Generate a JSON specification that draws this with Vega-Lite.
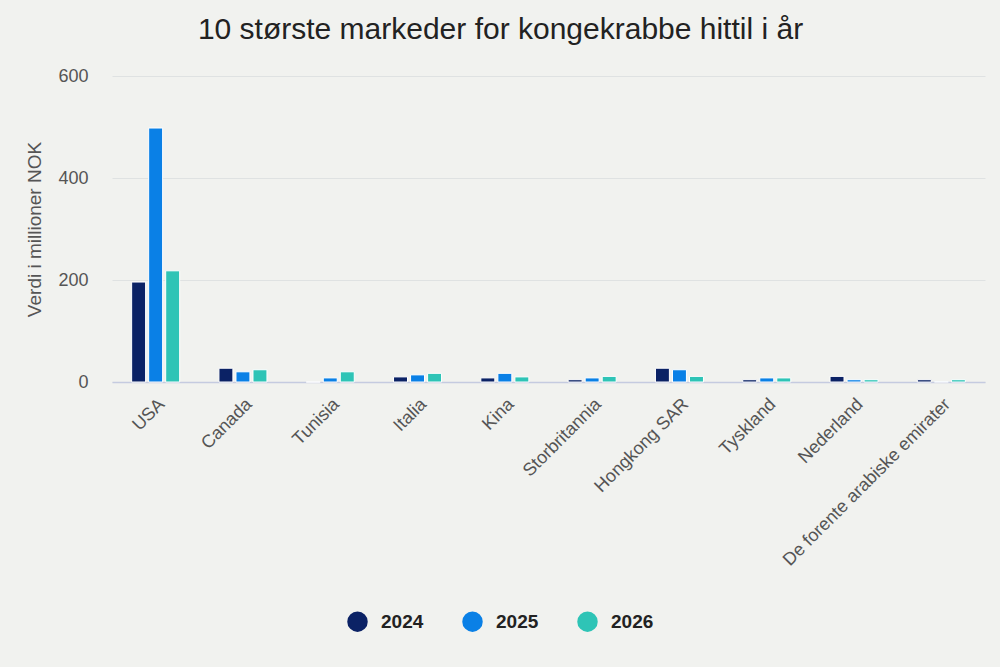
{
  "$schema": "https://vega.github.io/schema/vega-lite/v6.json",
  "autosize": "none",
  "width": 873,
  "height": 306,
  "padding": {"left": 112, "top": 76, "right": 15, "bottom": 285},
  "background": "#f1f2ef",
  "title": {
    "text": "10 største markeder for kongekrabbe hittil i år",
    "fontSize": 30,
    "fontWeight": "normal",
    "font": "Liberation Sans",
    "color": "#222222",
    "anchor": "middle",
    "frame": "group",
    "dx": -48,
    "offset": 22
  },
  "data": {
    "values": [
      {"marked": "USA", "aar": "2024", "verdi": 196},
      {"marked": "USA", "aar": "2025", "verdi": 498},
      {"marked": "USA", "aar": "2026", "verdi": 218},
      {"marked": "Canada", "aar": "2024", "verdi": 27},
      {"marked": "Canada", "aar": "2025", "verdi": 20},
      {"marked": "Canada", "aar": "2026", "verdi": 24},
      {"marked": "Tunisia", "aar": "2024", "verdi": 0},
      {"marked": "Tunisia", "aar": "2025", "verdi": 8},
      {"marked": "Tunisia", "aar": "2026", "verdi": 20},
      {"marked": "Italia", "aar": "2024", "verdi": 10},
      {"marked": "Italia", "aar": "2025", "verdi": 14},
      {"marked": "Italia", "aar": "2026", "verdi": 17},
      {"marked": "Kina", "aar": "2024", "verdi": 8},
      {"marked": "Kina", "aar": "2025", "verdi": 17},
      {"marked": "Kina", "aar": "2026", "verdi": 10},
      {"marked": "Storbritannia", "aar": "2024", "verdi": 4.5},
      {"marked": "Storbritannia", "aar": "2025", "verdi": 8},
      {"marked": "Storbritannia", "aar": "2026", "verdi": 11},
      {"marked": "Hongkong SAR", "aar": "2024", "verdi": 27},
      {"marked": "Hongkong SAR", "aar": "2025", "verdi": 24},
      {"marked": "Hongkong SAR", "aar": "2026", "verdi": 11},
      {"marked": "Tyskland", "aar": "2024", "verdi": 4.5},
      {"marked": "Tyskland", "aar": "2025", "verdi": 8},
      {"marked": "Tyskland", "aar": "2026", "verdi": 8},
      {"marked": "Nederland", "aar": "2024", "verdi": 11},
      {"marked": "Nederland", "aar": "2025", "verdi": 4.5},
      {"marked": "Nederland", "aar": "2026", "verdi": 4.5},
      {"marked": "De forente arabiske emirater", "aar": "2024", "verdi": 4.5},
      {"marked": "De forente arabiske emirater", "aar": "2025", "verdi": 0.6},
      {"marked": "De forente arabiske emirater", "aar": "2026", "verdi": 4.5}
    ]
  },
  "mark": {"type": "bar", "stroke": "white", "strokeWidth": 1},
  "encoding": {
    "x": {
      "field": "marked",
      "type": "nominal",
      "sort": null,
      "title": null,
      "scale": {"paddingInner": 0.45, "paddingOuter": 0.225},
      "axis": {
        "labelAngle": -45,
        "labelFontSize": 18,
        "labelFont": "Liberation Sans",
        "labelColor": "#555555",
        "labelPadding": 13,
        "labelLimit": 300,
        "ticks": false,
        "domainColor": "#c5cbe0",
        "domainWidth": 1.5
      }
    },
    "xOffset": {
      "field": "aar",
      "type": "nominal",
      "scale": {"paddingInner": 0.18, "paddingOuter": 0}
    },
    "y": {
      "field": "verdi",
      "type": "quantitative",
      "title": "Verdi i millioner NOK",
      "scale": {"domain": [0, 600]},
      "axis": {
        "values": [0, 200, 400, 600],
        "labelFontSize": 18,
        "labelFont": "Liberation Sans",
        "labelColor": "#555555",
        "labelPadding": 24,
        "titleFontSize": 19,
        "titleFont": "Liberation Sans",
        "titleFontWeight": "normal",
        "titleColor": "#555555",
        "titlePadding": 13,
        "ticks": false,
        "domain": false,
        "gridColor": "#dfe2e2",
        "gridWidth": 1
      }
    },
    "color": {
      "field": "aar",
      "type": "nominal",
      "title": null,
      "scale": {"domain": ["2024", "2025", "2026"], "range": ["#0b2265", "#0a80e6", "#2ec4b6"]},
      "legend": {
        "orient": "none",
        "direction": "horizontal",
        "legendX": 235,
        "legendY": 535,
        "symbolType": "circle",
        "symbolSize": 420,
        "symbolStrokeWidth": 0,
        "labelFontSize": 19,
        "labelFont": "Liberation Sans",
        "labelFontWeight": "bold",
        "labelColor": "#222222",
        "labelOffset": 13,
        "columnPadding": 38
      }
    }
  },
  "config": {
    "view": {"stroke": null}
  }
}
